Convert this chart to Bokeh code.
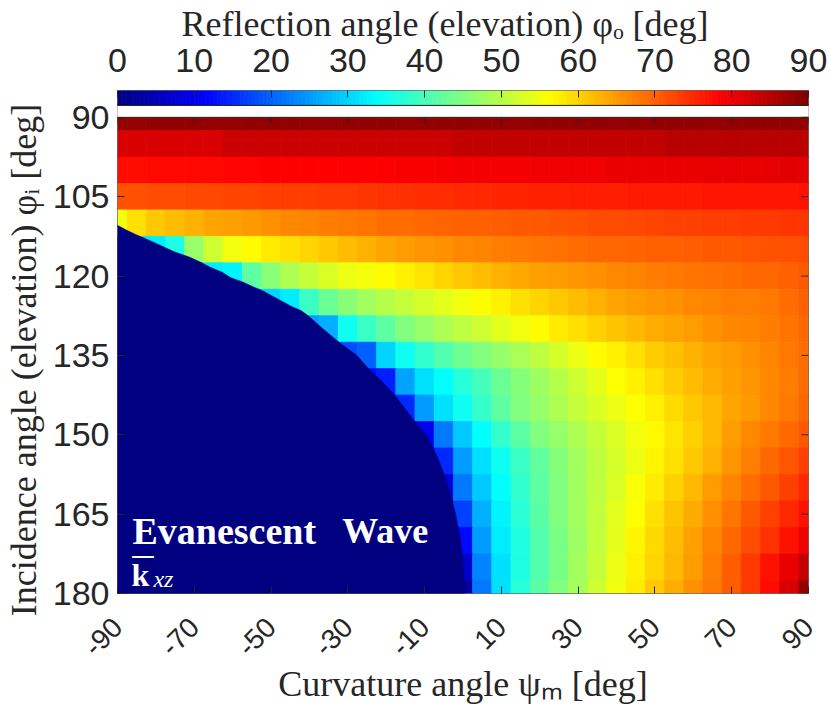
import numpy as np
from math import pi
from bokeh.plotting import figure
from bokeh.models import (LinearColorMapper, ColumnDataSource, Range1d, FixedTicker,
                          LinearAxis, Label)
from bokeh.transform import transform
from bokeh.embed import file_html
from bokeh.resources import INLINE

# ---------------- data ----------------
psi_m = [-90, -85, -80, -75, -70, -65, -60, -55, -50, -45, -40, -35, -30, -25, -20, -15, -10, -5,
         0, 5, 10, 15, 20, 25, 30, 35, 40, 45, 50, 55, 60, 65, 70, 75, 80, 85, 90]
phi_i = [90, 95, 100, 105, 110, 115, 120, 125, 130, 135, 140, 145, 150, 155, 160, 165, 170, 175, 180]

phi_o_090 = [88, 88, 88, 88, 88, 88, 88, 88, 88, 88, 88, 88, 88, 88, 88, 88, 88, 88, 88,
             88, 88, 88, 88, 88, 88, 88, 88, 88, 88, 88, 88, 88, 88, 88, 88, 88, 88]
phi_o_095 = [82, 82, 82, 82, 82, 82, 83, 83, 83, 83, 83, 83, 83, 83, 83, 83, 83, 83, 84,
             84, 84, 84, 84, 84, 84, 84, 84, 84, 84, 85, 85, 85, 85, 85, 85, 85, 85]
phi_o_100 = [77.5, 77.6, 77.7, 77.8, 77.9, 78.0, 78.2, 78.3, 78.4, 78.5, 78.6, 78.7, 78.8, 78.9,
             79.0, 79.2, 79.3, 79.4, 79.5, 79.6, 79.7, 79.8, 79.9, 80.0, 80.0, 80.1, 80.2, 80.3,
             80.4, 80.5, 80.5, 80.6, 80.7, 80.8, 80.8, 80.9, 81.0]
phi_o_105 = [71.5, 71.7, 71.8, 72.0, 72.2, 72.3, 72.5, 72.7, 72.9, 73.2, 73.4, 73.6, 73.8, 74.0,
             74.2, 74.4, 74.6, 74.8, 75.0, 75.2, 75.3, 75.5, 75.7, 75.8, 76.0, 76.1, 76.2, 76.3,
             76.4, 76.5, 76.6, 76.7, 76.7, 76.8, 76.9, 76.9, 77.0]
phi_o_110 = [55, 59, 61, 62, 63, 64, 64.5, 65.2, 66, 66.5, 67, 67.5, 68, 68.5, 69, 69.2, 69.5,
             69.8, 70, 70.3, 70.5, 70.8, 71, 71.3, 71.5, 71.8, 72, 72.3, 72.5, 72.8, 73, 73.2,
             73.4, 73.6, 73.8, 73.9, 74]
phi_o_115 = [0, 30, 32, 36, 47, 52, 55, 56.5, 58, 59, 60, 61, 62, 63, 64, 64.7, 65.5, 66, 66.5,
             67, 67.5, 68, 68.5, 68.8, 69, 69.3, 69.5, 69.8, 70, 70.3, 70.5, 70.8, 71, 71.2,
             71.4, 71.6, 72]
phi_o_120 = [0, 0, 0, 0, 30, 32, 33, 42, 46, 49, 51, 53, 54.5, 55.5, 56.5, 57.5, 58.5, 59.8, 61,
             62, 63, 63.8, 64.5, 65, 65.5, 66, 66.5, 67, 67.5, 68, 68.5, 68.8, 69, 69.3, 69.5,
             70.3, 71]
phi_o_125 = [0, 0, 0, 0, 0, 0, 0, 28, 30, 32, 39, 43, 46, 48, 49.8, 51.2, 52.5, 53.8, 55, 56.3,
             57.5, 58.8, 60, 61, 62, 63, 64, 64.8, 65.5, 66, 66.5, 67, 67.5, 67.8, 68.2, 69, 70]
phi_o_130 = [0, 0, 0, 0, 0, 0, 0, 0, 0, 0, 25, 27, 35, 39, 42, 45, 47, 49, 50.5, 52, 53.5, 55,
             56.5, 57.8, 59, 60.3, 61.5, 62.5, 63.5, 64.3, 65, 65.8, 66.5, 67, 67.5, 68.5, 69.5]
phi_o_135 = [0, 0, 0, 0, 0, 0, 0, 0, 0, 0, 0, 0, 18, 20, 30, 35, 38, 41, 43.5, 45, 47, 48.8,
             50.5, 52.5, 54.5, 56.3, 57.5, 59, 60.5, 61.8, 63, 64, 65, 66, 67, 68, 69]
phi_o_140 = [0, 0, 0, 0, 0, 0, 0, 0, 0, 0, 0, 0, 0, 12, 14, 26, 31, 34, 37, 40, 43, 45.5, 47.5,
             49.8, 52, 54, 56, 57.5, 59, 60.5, 62, 63.3, 64.5, 65.5, 66.5, 67.8, 69]
phi_o_145 = [0, 0, 0, 0, 0, 0, 0, 0, 0, 0, 0, 0, 0, 0, 10, 15, 25, 31, 35, 38.5, 42, 45, 47, 49,
             51, 52.8, 54.5, 56, 57.5, 59.2, 61, 62.5, 64, 65.3, 66.5, 68, 69.5]
phi_o_150 = [0, 0, 0, 0, 0, 0, 0, 0, 0, 0, 0, 0, 0, 0, 0, 0, 10, 22, 29, 34, 38, 41.5, 45, 47,
             49, 51, 53, 55, 56.8, 58.5, 60.3, 62.5, 65, 66.5, 68, 69.5, 71]
phi_o_155 = [0, 0, 0, 0, 0, 0, 0, 0, 0, 0, 0, 0, 0, 0, 0, 0, 0, 15, 25, 31, 35, 39, 42.5, 45.5,
             48, 50.3, 52.5, 54.8, 57, 59, 61, 63.2, 65.5, 67.5, 69.5, 71.3, 73]
phi_o_160 = [0, 0, 0, 0, 0, 0, 0, 0, 0, 0, 0, 0, 0, 0, 0, 0, 0, 8, 22, 29, 34, 38, 42, 45, 48,
             50.5, 53, 55.7, 58, 60.3, 62.5, 64.8, 67, 69, 71, 73, 75]
phi_o_165 = [0, 0, 0, 0, 0, 0, 0, 0, 0, 0, 0, 0, 0, 0, 0, 0, 0, 0, 17, 27, 33, 37.5, 41.5, 45,
             48, 50.8, 53.5, 56.2, 59, 61.3, 63.5, 66, 68.5, 70.8, 73, 75, 77]
phi_o_170 = [0, 0, 0, 0, 0, 0, 0, 0, 0, 0, 0, 0, 0, 0, 0, 0, 0, 0, 12, 25, 32, 36.5, 41, 44.5,
             47.5, 50.8, 54, 57, 59.5, 62, 64.5, 67, 69.5, 72, 74.5, 77, 80]
phi_o_175 = [0, 0, 0, 0, 0, 0, 0, 0, 0, 0, 0, 0, 0, 0, 0, 0, 0, 0, 7, 23, 31, 36.5, 41, 44.5,
             48, 51.3, 54.5, 57.5, 60, 62.5, 65, 67.8, 70.5, 73.5, 77, 80.5, 84]
phi_o_180 = [0, 0, 0, 0, 0, 0, 0, 0, 0, 0, 0, 0, 0, 0, 0, 0, 0, 0, 3, 22, 31, 37, 41.5, 45,
             48.5, 52, 55, 58, 61, 63.5, 66, 68, 70.5, 73.5, 77.5, 82, 88]

# edge of the evanescent region (incidence angle, curvature angle)
edge_phi_i = [110.4, 111.3, 112.2, 113.4, 114.4, 115.4, 116.4, 117.4, 118.4, 119.3, 120.3,
              121.1, 122.1, 122.9, 123.8, 124.8, 125.7, 126.5, 127.4, 130.0, 132.5, 135.0,
              137.5, 140.0, 142.5, 145.0, 147.5, 150.0, 152.5, 155.0, 157.5, 160.0, 162.5,
              165.0, 170.0, 175.0, 180.0]
edge_psi_m = [-90, -87.7, -85.1, -81.2, -78.2, -75.2, -71.3, -68.3, -65.7, -62.7, -60.5,
              -57.4, -54.4, -51.8, -49.6, -47.0, -44.8, -42.2, -40.5, -36.4, -32.3, -27.6,
              -24.6, -21.0, -17.8, -15.2, -12.5, -9.6, -7.8, -6.2, -4.9, -3.8, -2.8,
              -1.9, -0.6, 0.1, 0.5]

x_ticks = [-90, -70, -50, -30, -10, 10, 30, 50, 70, 90]
y_ticks = [90, 105, 120, 135, 150, 165, 180]
cb_ticks = [0, 10, 20, 30, 40, 50, 60, 70, 80, 90]

rows = [phi_o_090, phi_o_095, phi_o_100, phi_o_105, phi_o_110, phi_o_115, phi_o_120,
        phi_o_125, phi_o_130, phi_o_135, phi_o_140, phi_o_145, phi_o_150, phi_o_155,
        phi_o_160, phi_o_165, phi_o_170, phi_o_175, phi_o_180]

xs, ys, vs = [], [], []
for pi_val, row in zip(phi_i, rows):
    for ps, v in zip(psi_m, row):
        xs.append(ps)
        ys.append(pi_val)
        vs.append(v)
src = ColumnDataSource(dict(psi=xs, phi=ys, val=vs))

# ---------------- jet colormap ----------------
jet = []
for k in range(256):
    t = k / 255
    r = min(max(1.5 - abs(4 * t - 3), 0), 1)
    g = min(max(1.5 - abs(4 * t - 2), 0), 1)
    b = min(max(1.5 - abs(4 * t - 1), 0), 1)
    jet.append("#%02x%02x%02x" % (round(r * 255), round(g * 255), round(b * 255)))
mapper = LinearColorMapper(palette=jet, low=0, high=90)

AX = "#262626"
SANS = "Liberation Sans"
SERIF = "Liberation Serif"
NB = "\u00a0"

# ---------------- layout geometry (pixels) ----------------
W, H = 827, 706
FL, FR = 116, 808          # frame left/right
FT, FB = 88, 594           # frame top (colorbar top) / bottom (heatmap bottom)
HT = 115                   # heatmap top
CBB = 103                  # colorbar bottom
x_scale = (FR - FL) / 180.0
y_scale = (FB - HT) / 90.0
y_top = 90 - (HT - FT) / y_scale
x_lo, x_hi = -90, 90
y_lo, y_hi = 90, 180


def dx(px):
    return -90 + (px - FL) / x_scale


def dy(py):
    return 90 + (py - HT) / y_scale


p = figure(width=W, height=H, x_range=Range1d(x_lo, x_hi), y_range=Range1d(y_hi, y_top),
           output_backend="svg", toolbar_location=None,
           min_border_left=FL, min_border_right=W - FR, min_border_top=FT,
           min_border_bottom=H - FB)
p.extra_x_ranges = {"cb": Range1d(0, 90)}
p.grid.visible = False
p.outline_line_color = None
p.background_fill_color = "white"
p.border_fill_color = "white"

xa = p.below[0]
ya = p.left[0]

# heatmap
p.rect(x="psi", y="phi", width=5, height=5, source=src,
       fill_color=transform("val", mapper), line_color=transform("val", mapper),
       line_width=0.8)

# evanescent region (value 0 of the colour map) bounded by the edge
ev_x = [x_lo - 3] + edge_psi_m + [edge_psi_m[-1], x_lo - 3]
ev_y = [edge_phi_i[0]] + edge_phi_i + [y_hi + 3, y_hi + 3]
p.patch(ev_x, ev_y, fill_color=jet[0], line_color=jet[0], line_width=0.5)

cb_bot = dy(CBB)
# white gap between colour bar and heatmap box
p.rect(x=(x_lo + x_hi) / 2, y=(cb_bot + y_lo) / 2, width=x_hi - x_lo + 2, height=y_lo - cb_bot,
       fill_color="white", line_color=None)

# colour bar (gradient of the colour map)
cb_vals = np.arange(0.25, 90, 0.5)
cb_src = ColumnDataSource(dict(x=cb_vals, v=cb_vals))
p.rect(x="x", y=(y_top + cb_bot) / 2, width=0.5, height=cb_bot - y_top, source=cb_src,
       x_range_name="cb", fill_color=transform("v", mapper),
       line_color=transform("v", mapper), line_width=0.8)

# boxes around colour bar and heatmap
p.rect(x=(x_lo + x_hi) / 2, y=(y_top + cb_bot) / 2, width=x_hi - x_lo, height=cb_bot - y_top,
       fill_color=None, line_color=AX, line_width=1)
p.rect(x=(x_lo + x_hi) / 2, y=(y_lo + y_hi) / 2, width=x_hi - x_lo, height=y_hi - y_lo,
       fill_color=None, line_color=AX, line_width=1)

# mirrored ticks on top and right edges of the heatmap box
p.segment(x0=x_ticks, y0=[y_lo] * len(x_ticks), x1=x_ticks,
          y1=[y_lo + 7 / y_scale] * len(x_ticks), line_color=AX, line_width=1)
p.segment(x0=[x_hi] * len(y_ticks), y0=y_ticks, x1=[x_hi - 7 / x_scale] * len(y_ticks),
          y1=y_ticks, line_color=AX, line_width=1)

# colour bar axis (top)
cax = LinearAxis(x_range_name="cb", ticker=FixedTicker(ticks=cb_ticks))
cax.major_tick_in = 7
cax.major_tick_out = 0
cax.minor_tick_line_color = None
cax.axis_line_color = None
cax.major_tick_line_color = AX
cax.major_label_text_font = SANS
cax.major_label_text_font_size = "34px"
cax.major_label_text_color = AX
cax.major_label_standoff = 19
cax.axis_label = "Reflection angle (elevation) \u03c6\u2092 [deg]" + NB * 4
cax.axis_label_text_font = SERIF
cax.axis_label_text_font_size = "36px"
cax.axis_label_text_font_style = "normal"
cax.axis_label_text_color = AX
cax.axis_label_standoff = 2
p.add_layout(cax, "above")

# bottom axis
xa.ticker = FixedTicker(ticks=x_ticks)
xa.major_label_overrides = {t: str(t) for t in x_ticks}
xa.major_label_orientation = pi / 4
xa.major_label_text_font = SANS
xa.major_label_text_font_size = "28px"
xa.major_label_text_color = AX
xa.major_label_standoff = 29
xa.axis_label = "Curvature angle \u03c8\u2098 [deg]"
xa.axis_label_standoff = -4

# left axis
ya.ticker = FixedTicker(ticks=y_ticks)
ya.major_label_text_font = SANS
ya.major_label_text_font_size = "34px"
ya.major_label_text_color = AX
ya.major_label_standoff = 8
ya.axis_label = "Incidence angle (elevation) \u03c6\u1d62 [deg]" + NB * 4
ya.axis_label_standoff = 6

for ax in (xa, ya):
    ax.major_tick_in = 7
    ax.major_tick_out = 0
    ax.minor_tick_line_color = None
    ax.axis_line_color = None
    ax.major_tick_line_color = AX
    ax.axis_label_text_font = SERIF
    ax.axis_label_text_font_size = "36px"
    ax.axis_label_text_font_style = "normal"
    ax.axis_label_text_color = AX

# annotation inside the evanescent region
p.add_layout(Label(x=dx(131), y=dy(531.5), text="Evanescent", text_font=SERIF,
                   text_font_style="bold", text_font_size="38px", text_color="white",
                   text_baseline="alphabetic"))
p.add_layout(Label(x=dx(341), y=dy(531.5), text="Wave", text_font=SERIF,
                   text_font_style="bold", text_font_size="36px", text_color="white",
                   text_baseline="alphabetic"))
p.add_layout(Label(x=dx(130), y=dy(575), text="k", text_font=SERIF,
                   text_font_style="bold", text_font_size="32px", text_color="white",
                   text_baseline="alphabetic"))
p.add_layout(Label(x=dx(152), y=dy(579), text="xz", text_font=SERIF,
                   text_font_style="italic", text_font_size="24px", text_color="white",
                   text_baseline="alphabetic"))
p.add_layout(Label(x=dx(131), y=dy(538.8), text="_", text_font=SERIF,
                   text_font_size="42px", text_color="white",
                   text_baseline="alphabetic"))

open("out.html", "w").write(file_html(p, INLINE))
